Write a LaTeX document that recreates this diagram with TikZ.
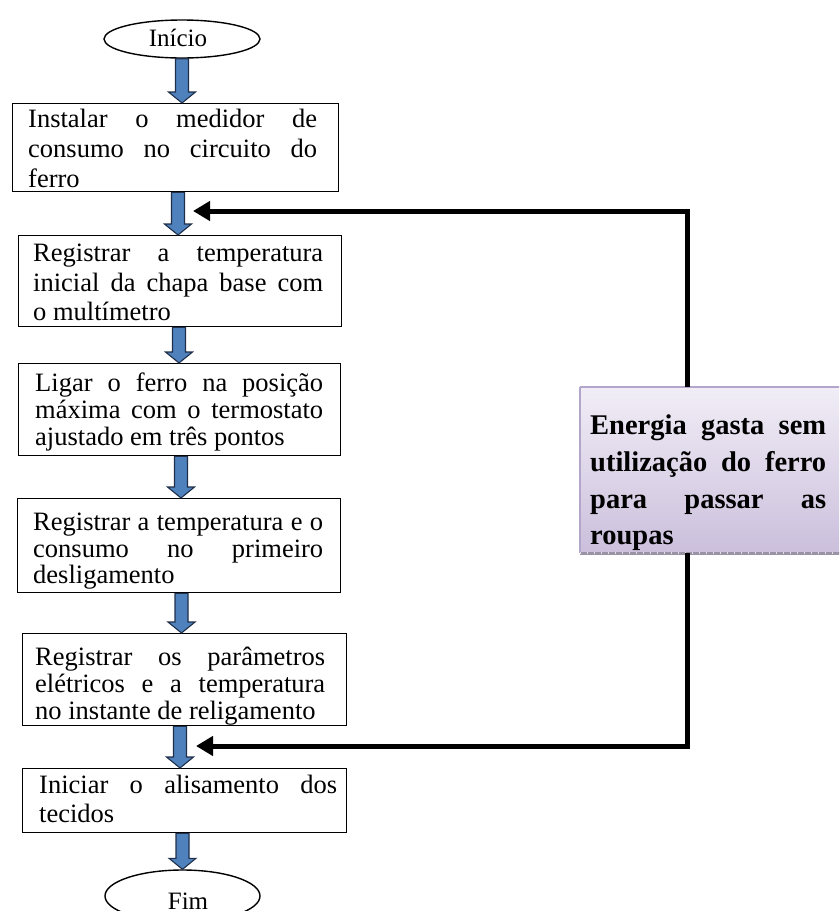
\documentclass[tikz,border=0pt]{standalone}
\usepackage{fontspec}
\setmainfont{Liberation Serif}
\usetikzlibrary{shapes.geometric,arrows.meta,calc}

\definecolor{arrowblue}{HTML}{4F81BD}
\definecolor{arrowedge}{HTML}{1F2F4A}
\definecolor{notetop}{HTML}{F1EDF6}
\definecolor{notebottom}{HTML}{CBBFDC}
\definecolor{noteline}{HTML}{B3A6CB}
\definecolor{noteshadow}{HTML}{9A93A6}

\tikzset{
  stepbox/.style={draw=black, line width=1.4pt, fill=white, rectangle,
    anchor=north west, inner sep=0pt},
  steptext/.style={anchor=base west, inner sep=0pt,
    font=\fontsize{26.5}{30}\selectfont},
  terminal/.style={draw=black, line width=1.4pt, ellipse, fill=white,
    inner sep=0pt, font=\fontsize{25}{28}\selectfont},
  blockarrow/.style={fill=arrowblue, draw=arrowedge, line width=1.1pt,
    line join=miter},
  feedback/.style={draw=black, line width=5pt, line join=miter,
    -{Triangle[length=17pt,width=19pt]}},
  notebox/.style={rectangle, anchor=north west, inner sep=0pt,
    top color=notetop, bottom color=notebottom},
  notetext/.style={anchor=base west, inner sep=0pt,
    font=\fontsize{28.5}{36}\selectfont\bfseries},
}

% block arrow from point #1 (shaft start) down to point #2 (tip)
\newcommand{\flowarrow}[2]{%
  \draw[blockarrow] let \p1=(#1), \p2=(#2) in
    (\x2-6.5pt,\y1) -- (\x2+6.5pt,\y1) -- (\x2+6.5pt,\y2+11pt)
    -- (\x2+13.5pt,\y2+11pt) -- (\x2,\y2) -- (\x2-13.5pt,\y2+11pt)
    -- (\x2-6.5pt,\y2+11pt) -- cycle;}

\begin{document}
\begin{tikzpicture}[x=1pt,y=-1pt]
\useasboundingbox (0,0) rectangle (839,911);
\clip (0,0) rectangle (839,911);

% terminals
\node[terminal, minimum width=156, minimum height=38] (start) at (182,39) {};
\node[anchor=base, inner sep=0pt, font=\fontsize{25}{28}\selectfont] (startlbl) at (178,46) {Início};
\node[terminal, minimum width=155, minimum height=52] (stop) at (182.5,896) {};
\node[anchor=base, inner sep=0pt, font=\fontsize{25}{28}\selectfont] (stoplbl) at (188,909) {Fim};

% process boxes
\node[stepbox, minimum width=326, minimum height=88] (b1) at (12,103) {};
\node[stepbox, minimum width=323, minimum height=91] (b2) at (18,235) {};
\node[stepbox, minimum width=322, minimum height=92] (b3) at (18,363) {};
\node[stepbox, minimum width=323, minimum height=94] (b4) at (17,498) {};
\node[stepbox, minimum width=324, minimum height=92] (b5) at (22,633) {};
\node[stepbox, minimum width=324, minimum height=64] (b6) at (22,768) {};

% box texts (justified lines)
\node[steptext] (t11) at (28,127) {\makebox[289pt][s]{Instalar o medidor de}};
\node[steptext] (t12) at (28,157) {\makebox[289pt][s]{consumo no circuito do}};
\node[steptext] (t13) at (28,187) {ferro};

\node[steptext] (t21) at (33,261) {\makebox[290pt][s]{Registrar a temperatura}};
\node[steptext] (t22) at (33,291) {\makebox[290pt][s]{inicial da chapa base com}};
\node[steptext] (t23) at (33,320) {o multímetro};

\node[steptext] (t31) at (35,391) {\makebox[288pt][s]{Ligar o ferro na posição}};
\node[steptext] (t32) at (35,418) {\makebox[288pt][s]{máxima com o termostato}};
\node[steptext] (t33) at (35,445) {ajustado em três pontos};

\node[steptext] (t41) at (33,530) {\makebox[290pt][s]{Registrar a temperatura e o}};
\node[steptext] (t42) at (33,557) {\makebox[290pt][s]{consumo no primeiro}};
\node[steptext] (t43) at (33,583) {desligamento};

\node[steptext] (t51) at (35,665) {\makebox[290pt][s]{Registrar os parâmetros}};
\node[steptext] (t52) at (35,692) {\makebox[290pt][s]{elétricos e a temperatura}};
\node[steptext] (t53) at (35,719) {no instante de religamento};

\node[steptext] (t61) at (39,793) {\makebox[298pt][s]{Iniciar o alisamento dos}};
\node[steptext] (t62) at (39,822) {tecidos};

% down arrows between the steps
\coordinate (x0) at (182,0);
\coordinate (x1) at (178,0);
\coordinate (x2) at (179,0);
\coordinate (x3) at (181,0);
\coordinate (x4) at (181.5,0);
\coordinate (x5) at (180,0);
\coordinate (x6) at (182.5,0);
\flowarrow{start.south -| x0}{b1.north -| x0}
\flowarrow{b1.south -| x1}{b2.north -| x1}
\flowarrow{b2.south -| x2}{b3.north -| x2}
\flowarrow{b3.south -| x3}{b4.north -| x3}
\flowarrow{b4.south -| x4}{b5.north -| x4}
\flowarrow{b5.south -| x5}{b6.north -| x5}
\flowarrow{b6.south -| x6}{stop.north -| x6}

% side note with the loop back
\node[notebox, minimum width=270, minimum height=166] (note) at (580,387) {};
\draw[noteline, line width=2pt] (note.north west) -- (note.north east);
\draw[noteline, line width=1.2pt] (note.north west) -- (note.south west);
\draw[noteshadow, line width=3.5pt] (note.south west) -- (note.south east);
\draw[white!70!noteshadow, line width=2pt, dash pattern=on 1pt off 6pt]
  (note.south west) -- (note.south east);

\node[notetext] (n1) at (590,434) {\makebox[236pt][s]{Energia gasta sem}};
\node[notetext] (n2) at (590,471) {\makebox[236pt][s]{utilização do ferro}};
\node[notetext] (n3) at (590,508) {\makebox[236pt][s]{para passar as}};
\node[notetext] (n4) at (590,544) {roupas};

\coordinate (loopx) at (687,0);
\coordinate (backtop) at (193,211);
\coordinate (backbot) at (196,746);
\draw[feedback] (note.north -| loopx) |- (backtop);
\draw[feedback] (note.south -| loopx) |- (backbot);
\end{tikzpicture}
\end{document}
